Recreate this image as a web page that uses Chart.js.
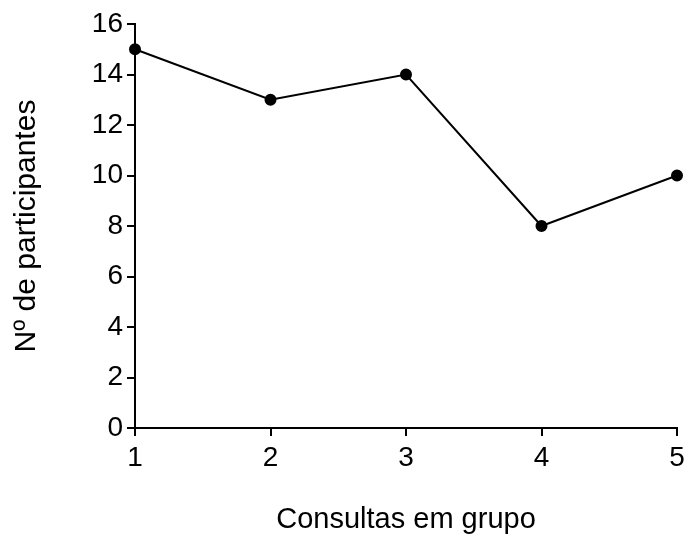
<!DOCTYPE html>
<html>
<head>
<meta charset="utf-8">
<script src="https://cdn.jsdelivr.net/npm/chart.js@4"></script>
<style>
  html, body { margin: 0; padding: 0; background: #fff; }
  #chart { display: block; }
</style>
</head>
<body>
<canvas id="chart" width="686" height="537"></canvas>
<script>
// consultas em grupo e numero de participantes
const consultas = ['1', '2', '3', '4', '5'];
const participantes = [15, 13, 14, 8, 10];

const tituloX = 'Consultas em grupo';
const tituloY = 'Nº de participantes';

const fonte = 'Arial, "Liberation Sans", sans-serif';
const preto = '#000';

const ctx = document.getElementById('chart');

new Chart(ctx, {
  type: 'line',
  data: {
    labels: consultas,
    datasets: [{
      data: participantes,
      borderColor: preto,
      backgroundColor: preto,
      borderWidth: 2,
      pointRadius: 5,
      pointBackgroundColor: preto,
      pointBorderColor: preto,
      tension: 0
    }]
  },
  options: {
    responsive: false,
    animation: false,
    layout: {
      padding: { top: 24, right: 0, left: 0, bottom: 0 }
    },
    plugins: {
      legend: { display: false },
      tooltip: { enabled: false }
    },
    scales: {
      x: {
        offset: false,
        grid: { display: true, drawOnChartArea: false, drawTicks: true, tickLength: 8, color: preto, lineWidth: 2 },
        border: { display: true, color: preto, width: 2 },
        ticks: { color: preto, padding: 5, font: { family: fonte, size: 28 } },
        title: { display: true, text: tituloX, color: preto, font: { family: fonte, size: 29 }, padding: { top: 0, bottom: 0 } },
        afterFit: (scale) => {
          scale.height = 109;
          scale.paddingRight = 9; // o "5" fica quase na borda
        }
      },
      y: {
        min: 0,
        max: 16,
        grid: { display: true, drawOnChartArea: false, drawTicks: true, tickLength: 8, color: preto, lineWidth: 2 },
        border: { display: true, color: preto, width: 2 },
        ticks: { stepSize: 2, color: preto, padding: 4, font: { family: fonte, size: 28 } },
        title: { display: true, text: tituloY, color: preto, font: { family: fonte, size: 30 }, padding: { top: 9, bottom: 0 } },
        afterFit: (scale) => { scale.width = 135; }
      }
    }
  }
});
</script>
</body>
</html>
